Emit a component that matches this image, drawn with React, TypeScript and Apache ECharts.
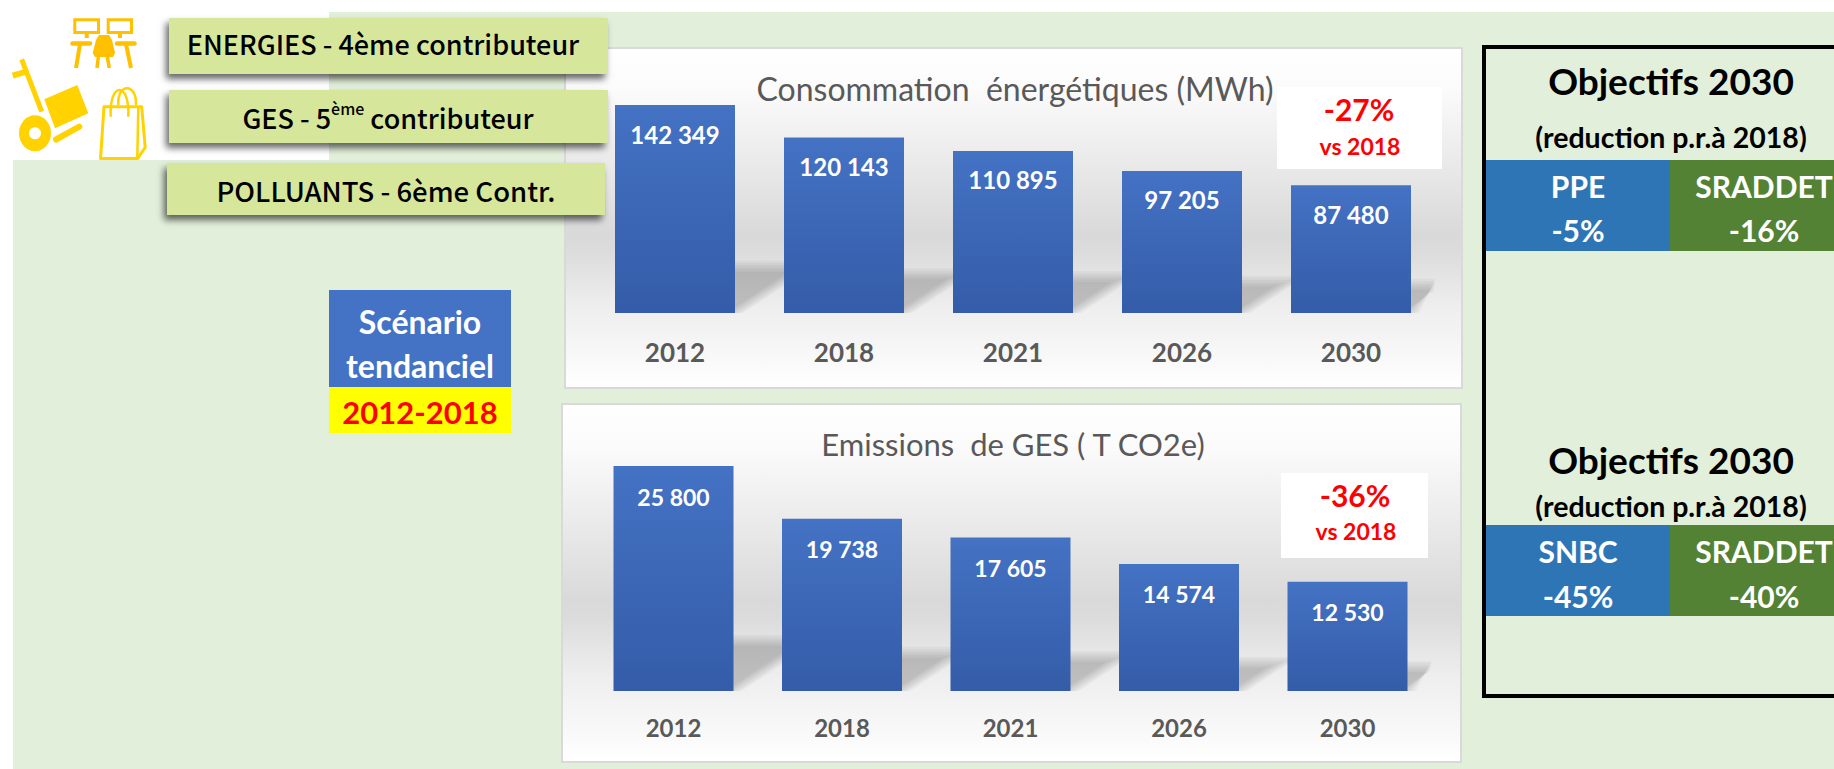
import React, { useEffect, useRef } from "react";
import * as echarts from "echarts";

const years = ["2012", "2018", "2021", "2026", "2030"];
const energy = [142349, 120143, 110895, 97205, 87480];
const ghg = [25800, 19738, 17605, 14574, 12530];
const energyTitle = "Consommation  énergétiques (MWh)";
const ghgTitle = "Emissions  de GES ( T CO2e)";

const LATO = "Lato, Calibri, sans-serif";
const KR = "'Noto Sans CJK KR', sans-serif";
const GOLD = "#FFC000";
const YEL = "#FFD200";

const fmt = (v: number) => String(v).replace(/\B(?=(\d{3})+$)/g, " ");

function txt(text: string, x: number, y: number, fontSize: number, fill: string, fontWeight: any = "bold", fontFamily = LATO, z = 8) {
  return { type: "text", x, y: y - 1.5, z, silent: true, style: { text, fill, fontSize, fontWeight, fontFamily, align: "center", verticalAlign: "middle" } };
}
function box(x: number, y: number, w: number, h: number, fill: any, z = 5, extra: any = {}) {
  return { type: "rect", z, silent: true, shape: { x, y, width: w, height: h }, style: { fill, ...extra } };
}
function seg(x1: number, y1: number, x2: number, y2: number, stroke: string, lineWidth: number, cap = "round") {
  return { type: "line", z: 3, silent: true, shape: { x1, y1, x2, y2 }, style: { stroke, lineWidth, lineCap: cap } };
}
function panelFill() {
  return new echarts.graphic.LinearGradient(0, 0, 0, 1, [
    { offset: 0, color: "#ffffff" },
    { offset: 0.12, color: "#fbfbfb" },
    { offset: 0.55, color: "#d9d9d9" },
    { offset: 0.6, color: "#dcdcdc" },
    { offset: 0.76, color: "#eeeeee" },
    { offset: 0.85, color: "#f4f4f4" },
    { offset: 1, color: "#ffffff" },
  ]);
}
function labelBox(x: number, y: number, w: number, h: number) {
  return box(x, y, w, h, "#D6E79B", 6, { shadowBlur: 7, shadowOffsetX: -3, shadowOffsetY: 5, shadowColor: "rgba(0,0,0,0.6)" });
}

function barPair(gridIndex: number, values: number[], labelSize: number, labelDist: number) {
  const shadow = {
    type: "custom",
    xAxisIndex: gridIndex,
    yAxisIndex: gridIndex,
    z: 1,
    silent: true,
    data: values.map((v, i) => [i, v]),
    renderItem(params: any, api: any) {
      const c = api.coord([api.value(0), 0]);
      const t = api.coord([api.value(0), api.value(1)]);
      const sh = (c[1] - t[1]) * 0.225;
      const cs = params.coordSys;
      const rect = { x: cs.x, y: cs.y, width: cs.width, height: cs.height };
      const children: any[] = [];
      const STEPS = 6;
      for (let k = 0; k < STEPS; k++) {
        const inset = (k - 2.5) * 2.2;
        const topH = sh - inset;
        const right = c[0] + 60 - inset * 1.5;
        const pts = [
          [c[0] - 50, c[1]],
          [right, c[1]],
          [right + topH * 1.5, c[1] - topH],
          [c[0] - 50 + topH * 1.5, c[1] - topH],
        ];
        children.push({
          type: "polygon",
          shape: { points: echarts.graphic.clipPointsByRect(pts, rect) },
          style: { fill: "rgba(0,0,0,0.036)" },
        });
      }
      return { type: "group", children };
    },
  };
  const bar = {
    type: "bar",
    xAxisIndex: gridIndex,
    yAxisIndex: gridIndex,
    z: 2,
    barWidth: 120,
    data: values,
    itemStyle: {
      color: new echarts.graphic.LinearGradient(0, 0, 0, 1, [
        { offset: 0, color: "#4472C4" },
        { offset: 1, color: "#345CA8" },
      ]),
    },
    label: {
      show: true,
      position: "insideTop",
      distance: labelDist,
      color: "#ffffff",
      fontFamily: LATO,
      fontWeight: "bold",
      fontSize: labelSize,
      formatter: (p: any) => fmt(p.value),
    },
  };
  return [shadow, bar];
}

function buildGraphic() {
  const g: any[] = [
    box(329, 12, 1505, 757, "#E2EFDA", 0),
    box(13, 160, 316, 609, "#E2EFDA", 0),
    box(565, 48, 897, 340, panelFill(), 0, { stroke: "#D9D9D9", lineWidth: 2 }),
    box(562, 404, 899, 358, panelFill(), 0, { stroke: "#D9D9D9", lineWidth: 2 }),
    // left banners
    labelBox(169, 18, 439, 56),
    labelBox(169, 90, 439, 53),
    labelBox(167, 163, 438, 52),
    txt("ENERGIES - 4ème contributeur", 383, 45, 27, "#000", 500, KR),
    {
      type: "text", x: 388, y: 117, z: 8, silent: true,
      style: {
        text: "{m|GES - 5}{s|ème}{m| contributeur}", align: "center", verticalAlign: "middle",
        rich: {
          m: { fontSize: 27, fontWeight: 500, fontFamily: KR, fill: "#000", color: "#000", lineHeight: 34 },
          s: { fontSize: 16, fontWeight: 500, fontFamily: KR, fill: "#000", color: "#000", lineHeight: 34, verticalAlign: "top" },
        },
      },
    },
    txt("POLLUANTS - 6ème Contr.", 386, 191, 27.5, "#000", 500, KR),
    // scenario
    box(329, 290, 182, 97, "#4472C4"),
    box(329, 387, 182, 46, "#FFFF00"),
    txt("Scénario", 420, 323, 32, "#fff"),
    txt("tendanciel", 420, 367, 32, "#fff"),
    txt("2012-2018", 420, 413, 31, "#FF0000"),
    // % boxes
    box(1277, 87, 165, 82, "#ffffff"),
    txt("-27%", 1359, 110, 30, "#FF0000"),
    txt("vs 2018", 1360, 147, 23, "#FF0000"),
    box(1281, 473, 147, 85, "#ffffff"),
    txt("-36%", 1355, 496, 30, "#FF0000"),
    txt("vs 2018", 1356, 532, 23, "#FF0000"),
    // objectives frame
    { type: "rect", z: 4, silent: true, shape: { x: 1484, y: 47, width: 400, height: 649 }, style: { fill: "none", stroke: "#000", lineWidth: 4 } },
    txt("Objectifs 2030", 1671, 82, 37, "#000"),
    txt("(reduction p.r.à 2018)", 1671, 138, 28.5, "#000"),
    box(1486, 160, 184, 91, "#2E75B6"),
    box(1670, 160, 164, 91, "#548235"),
    txt("PPE", 1578, 187, 30, "#fff"),
    txt("-5%", 1578, 231, 30, "#fff"),
    txt("SRADDET", 1764, 187, 30, "#fff"),
    txt("-16%", 1764, 231, 30, "#fff"),
    txt("Objectifs 2030", 1671, 461, 37, "#000"),
    txt("(reduction p.r.à 2018)", 1671, 507, 28.5, "#000"),
    box(1486, 525, 184, 91, "#2E75B6"),
    box(1670, 525, 164, 91, "#548235"),
    txt("SNBC", 1578, 552, 30, "#fff"),
    txt("-45%", 1578, 597, 30, "#fff"),
    txt("SRADDET", 1764, 552, 30, "#fff"),
    txt("-40%", 1764, 597, 30, "#fff"),
    // desk icon
    { type: "rect", z: 3, silent: true, shape: { x: 74.8, y: 19.8, width: 23.7, height: 12.7 }, style: { fill: "none", stroke: GOLD, lineWidth: 3 } },
    { type: "rect", z: 3, silent: true, shape: { x: 108.2, y: 19.8, width: 23.3, height: 12.7 }, style: { fill: "none", stroke: GOLD, lineWidth: 3 } },
    seg(86.7, 34, 86.7, 38, GOLD, 4, "butt"),
    seg(120, 34, 120, 38, GOLD, 4, "butt"),
    seg(72.5, 43.5, 90, 43.5, GOLD, 4.5),
    seg(117, 43.5, 134.5, 43.5, GOLD, 4.5),
    seg(80, 44, 76, 68, GOLD, 4, "butt"),
    seg(126, 44, 131, 68, GOLD, 4, "butt"),
    { type: "polygon", z: 4, silent: true, shape: { points: [[99, 35], [109, 35], [112, 40], [115, 53], [113, 57], [95, 57], [92.7, 53], [96, 40]] }, style: { fill: GOLD } },
    seg(98.3, 57, 97, 68, GOLD, 3.5, "butt"),
    seg(107.3, 57, 109.3, 68, GOLD, 3.5, "butt"),
    // trolley icon
    seg(21.7, 59.3, 41.7, 111.7, YEL, 5, "butt"),
    seg(12.7, 75.7, 25, 72, YEL, 6, "butt"),
    { type: "polygon", z: 3, silent: true, shape: { points: [[44.3, 99.3], [77.3, 85], [88.3, 113.3], [55, 128.3]] }, style: { fill: YEL } },
    { type: "ellipse", z: 3, silent: true, shape: { cx: 35, cy: 133.3, rx: 16, ry: 18 }, style: { fill: YEL } },
    { type: "circle", z: 3, silent: true, shape: { cx: 35, cy: 133.3, r: 6 }, style: { fill: "#fff" } },
    seg(56, 139.5, 79.3, 126.7, YEL, 6),
    // bag icon
    { type: "polygon", z: 3, silent: true, shape: { points: [[104, 106.7], [141.7, 106.7], [145.2, 147.3], [137.7, 158.5], [100.5, 158.5]] }, style: { fill: "#fff", stroke: YEL, lineWidth: 3, lineJoin: "round" } },
    { type: "bezierCurve", z: 3, silent: true, shape: { x1: 110.7, y1: 116.7, x2: 128.3, y2: 116.7, cpx1: 109, cpy1: 81, cpx2: 130, cpy2: 81 }, style: { fill: "none", stroke: YEL, lineWidth: 2.5 } },
    { type: "bezierCurve", z: 3, silent: true, shape: { x1: 118.3, y1: 105, x2: 136, y2: 105, cpx1: 117, cpy1: 82.7, cpx2: 137, cpy2: 82.7 }, style: { fill: "none", stroke: YEL, lineWidth: 2.5 } },
    seg(138.3, 108, 137.3, 157, YEL, 2.5, "butt"),
  ];
  return g;
}

export default function App() {
  const ref = useRef<HTMLDivElement>(null);
  useEffect(() => {
    document.body.style.margin = "0";
    const chart = echarts.init(ref.current!, undefined, { renderer: "svg" });
    const xAxisBase = (gridIndex: number, size: number, margin: number) => ({
      type: "category",
      gridIndex,
      data: years,
      axisLine: { show: false },
      axisTick: { show: false },
      axisLabel: { color: "#595959", fontFamily: LATO, fontWeight: "bold", fontSize: size, margin },
    });
    const titleStyle = { color: "#595959", fontFamily: LATO, fontWeight: "normal", fontSize: 32 };
    chart.setOption({
      animation: false,
      backgroundColor: "#ffffff",
      title: [
        { text: energyTitle, left: 1015, top: 88, padding: 0, textAlign: "center", textVerticalAlign: "middle", textStyle: titleStyle },
        { text: ghgTitle, left: 1013, top: 444, padding: 0, textAlign: "center", textVerticalAlign: "middle", textStyle: { ...titleStyle, fontSize: 31 } },
      ],
      grid: [
        { left: 590.5, width: 845, top: 105, height: 208 },
        { left: 589.25, width: 842.5, top: 466, height: 225 },
      ],
      xAxis: [xAxisBase(0, 26, 26), xAxisBase(1, 24, 24)],
      yAxis: [
        { type: "value", gridIndex: 0, min: 0, max: energy[0], show: false },
        { type: "value", gridIndex: 1, min: 0, max: ghg[0], show: false },
      ],
      series: [...barPair(0, energy, 24, 17), ...barPair(1, ghg, 23, 19)],
      graphic: { elements: buildGraphic() },
    });
    return () => chart.dispose();
  }, []);
  return <div ref={ref} style={{ position: "fixed", left: 0, top: 0, width: 1834, height: 769 }} />;
}
